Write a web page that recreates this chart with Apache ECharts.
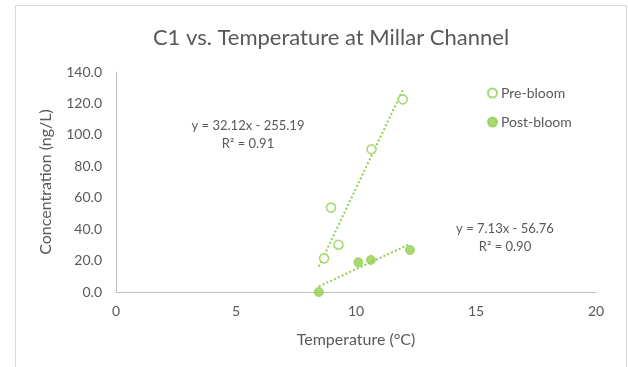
<!DOCTYPE html>
<html>
<head>
<meta charset="utf-8">
<script src="https://cdn.jsdelivr.net/npm/echarts@6/dist/echarts.min.js"></script>
<style>
  html, body { margin: 0; padding: 0; background: #fff; }
  #chart { width: 628px; height: 367px; }
</style>
</head>
<body>
<div id="chart"></div>
<script>
// Pre-bloom samples: temperature (°C) and C1 concentration (ng/L)
const preTemp = [8.67, 8.96, 9.27, 10.65, 11.95];
const preConc = [21.4, 53.7, 30.1, 90.8, 122.6];
// Post-bloom samples
const postTemp = [8.45, 10.10, 10.62, 12.25];
const postConc = [0.0, 18.9, 20.4, 26.7];

// Linear trendlines as reported in the equation labels
const preFit = [32.12, -255.19];   // slope, intercept
const postFit = [7.13, -56.76];
const preR2 = '0.91';
const postR2 = '0.90';
const preFitSpan = [8.45, 11.95];
const postFitSpan = [8.45, 12.25];

const xTicks = [0, 5, 10, 15, 20];
const yTicks = [0, 20, 40, 60, 80, 100, 120, 140];

const green = '#92d050';
const textGray = '#595959';
const font = 'Lato, "Open Sans", sans-serif';

const pairs = (xs, ys) => xs.map((x, i) => [x, ys[i]]);
const fitLine = (fit, span) => span.map(x => [x, fit[0] * x + fit[1]]);
const eqText = (fit) => 'y = ' + fit[0].toFixed(2) + 'x - ' + Math.abs(fit[1]).toFixed(2);

const chart = echarts.init(document.getElementById('chart'), null, { renderer: 'canvas' });

chart.setOption({
  animation: false,
  backgroundColor: '#ffffff',
  title: {
    text: 'C1 vs. Temperature at Millar Channel',
    left: 326, top: 22, textAlign: 'center',
    textStyle: { fontFamily: font, fontSize: 22, fontWeight: 'normal', color: textGray }
  },
  legend: {
    orient: 'vertical',
    left: 482, top: 81,
    itemGap: 15,
    itemWidth: 9, itemHeight: 9,
    data: ['Pre-bloom', 'Post-bloom'],
    textStyle: { fontFamily: font, fontSize: 14, color: textGray, padding: [0, 0, 0, -1] }
  },
  grid: { left: 116, right: 32, top: 72, bottom: 75 },
  xAxis: {
    type: 'value',
    min: xTicks[0], max: xTicks[xTicks.length - 1], interval: 5,
    name: 'Temperature (°C)',
    nameLocation: 'middle', nameGap: 40,
    nameTextStyle: { fontFamily: font, fontSize: 16, color: textGray },
    axisLine: { show: true, lineStyle: { color: '#bfbfbf', width: 1 } },
    axisTick: { show: false },
    splitLine: { show: false },
    axisLabel: { fontFamily: font, fontSize: 14, color: textGray, margin: 12 }
  },
  yAxis: {
    type: 'value',
    min: yTicks[0], max: yTicks[yTicks.length - 1], interval: 20,
    name: 'Concentration (ng/L)',
    nameLocation: 'middle', nameGap: 62,
    nameTextStyle: { fontFamily: font, fontSize: 16, color: textGray },
    axisLine: { show: true, lineStyle: { color: '#bfbfbf', width: 1 } },
    axisTick: { show: false },
    splitLine: { show: false },
    axisLabel: { fontFamily: font, fontSize: 14, color: textGray, margin: 14,
                 formatter: v => v.toFixed(1) }
  },
  series: [
    {
      name: 'Pre-bloom', type: 'scatter',
      data: pairs(preTemp, preConc),
      symbol: 'circle', symbolSize: 9,
      itemStyle: { color: '#ffffff', borderColor: green, borderWidth: 1.6 },
      z: 5
    },
    {
      name: 'Post-bloom', type: 'scatter',
      data: pairs(postTemp, postConc),
      symbol: 'circle', symbolSize: 9,
      itemStyle: { color: green, borderColor: green, borderWidth: 1 },
      z: 5
    },
    {
      name: 'preFit', type: 'line',
      data: fitLine(preFit, preFitSpan),
      symbol: 'none', silent: true,
      lineStyle: { color: green, width: 2, type: [2, 2.2] },
      z: 3
    },
    {
      name: 'postFit', type: 'line',
      data: fitLine(postFit, postFitSpan),
      symbol: 'none', silent: true,
      lineStyle: { color: green, width: 2, type: [2, 2.2] },
      z: 3
    }
  ],
  graphic: [
    {
      type: 'text', x: 248, y: 117,
      style: { text: eqText(preFit) + '\nR² = ' + preR2, align: 'center',
               font: '13px ' + font, fill: textGray, lineHeight: 18 }
    },
    {
      type: 'text', x: 505, y: 220,
      style: { text: eqText(postFit) + '\nR² = ' + postR2, align: 'center',
               font: '13px ' + font, fill: textGray, lineHeight: 18 }
    },
    {
      type: 'rect', shape: { x: 15.5, y: 5.5, width: 611, height: 370 },
      style: { fill: 'none', stroke: '#d9d9d9', lineWidth: 1 }, silent: true
    }
  ]
});
</script>
</body>
</html>
